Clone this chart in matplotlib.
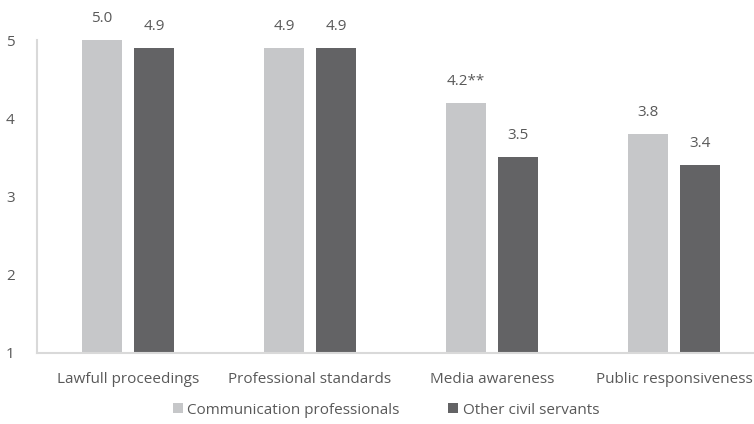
import matplotlib
matplotlib.use("Agg")
import matplotlib.pyplot as plt
import numpy as np

categories = ["Lawfull proceedings", "Professional standards", "Media awareness", "Public responsiveness"]
comm_values = [5.0, 4.9, 4.2, 3.8]
other_values = [4.9, 4.9, 3.5, 3.4]
comm_labels = ["5.0", "4.9", "4.2**", "3.8"]
other_labels = ["4.9", "4.9", "3.5", "3.4"]
series_names = ["Communication professionals", "Other civil servants"]

plt.rcParams["font.family"] = ["Open Sans", "DejaVu Sans"]
text_color = "#595959"
light = "#C6C7C9"
dark = "#636365"
fs = 11

fig = plt.figure(figsize=(7.54, 4.24), dpi=100)
# axes run a bit past the right edge, like the original (cropped) chart
ax = fig.add_axes([37 / 754, 1 - 353 / 424, 728 / 754, 313 / 424])

x = np.arange(len(categories))
w = 0.22
off = 0.143
b1 = ax.bar(x - off, np.array(comm_values) - 1, w, bottom=1, color=light, label=series_names[0])
b2 = ax.bar(x + off, np.array(other_values) - 1, w, bottom=1, color=dark, label=series_names[1])

for xi, v, lab in zip(x - off, comm_values, comm_labels):
    ax.text(xi, v + 0.18, lab, ha="center", va="bottom", fontsize=fs, color=text_color)
for xi, v, lab in zip(x + off, other_values, other_labels):
    ax.text(xi, v + 0.18, lab, ha="center", va="bottom", fontsize=fs, color=text_color)

ax.set_xlim(-0.5, 3.5)
ax.set_ylim(1, 5)
ax.set_yticks([1, 2, 3, 4, 5])
ax.set_xticks(x)
ax.set_xticklabels(categories)
ax.tick_params(axis="both", length=0, labelsize=fs, labelcolor=text_color)
ax.tick_params(axis="y", pad=16)
ax.tick_params(axis="x", pad=14)

for s in ["top", "right"]:
    ax.spines[s].set_visible(False)
for s in ["left", "bottom"]:
    ax.spines[s].set_color("#D9D9D9")
    ax.spines[s].set_linewidth(1.5)

leg = fig.legend(handles=[b1, b2], loc="center", bbox_to_anchor=(386 / 754, 1 - 410 / 424),
                 ncol=2, frameon=False, fontsize=fs, handlelength=0.65, handleheight=0.65,
                 handletextpad=0.3, columnspacing=3.2)
for t in leg.get_texts():
    t.set_color(text_color)

fig.savefig("out.png", dpi=100)
